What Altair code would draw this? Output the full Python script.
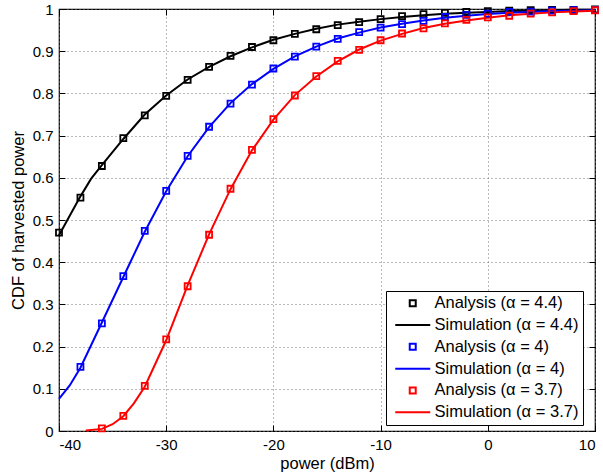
import altair as alt
import pandas as pd

labels = [
    "Analysis (α = 4.4)", "Simulation (α = 4.4)",
    "Analysis (α = 4)", "Simulation (α = 4)",
    "Analysis (α = 3.7)", "Simulation (α = 3.7)",
]
colors = ["#000000", "#000000", "#0000ff", "#0000ff", "#ff0000", "#ff0000"]

# Analysis markers (every 2 dBm)
an44_x = [-40, -38, -36, -34, -32, -30, -28, -26, -24, -22, -20, -18, -16, -14, -12, -10, -8, -6, -4, -2, 0, 2, 4, 6, 8, 10]
an44_y = [0.470, 0.553, 0.628, 0.694, 0.748, 0.794, 0.832, 0.863, 0.889, 0.910, 0.926, 0.941, 0.952, 0.962, 0.969, 0.976,
          0.983, 0.988, 0.991, 0.993, 0.995, 0.996, 0.997, 0.998, 0.998, 0.999]
an4_x = [-38, -36, -34, -32, -30, -28, -26, -24, -22, -20, -18, -16, -14, -12, -10, -8, -6, -4, -2, 0, 2, 4, 6, 8, 10]
an4_y = [0.152, 0.255, 0.367, 0.474, 0.569, 0.652, 0.721, 0.776, 0.821, 0.859, 0.887, 0.911, 0.929, 0.945, 0.956,
         0.964, 0.972, 0.981, 0.986, 0.989, 0.993, 0.994, 0.996, 0.997, 0.998]
an37_x = [-36, -34, -32, -30, -28, -26, -24, -22, -20, -18, -16, -14, -12, -10, -8, -6, -4, -2, 0, 2, 4, 6, 8, 10]
an37_y = [0.006, 0.036, 0.107, 0.217, 0.343, 0.465, 0.574, 0.666, 0.739, 0.795, 0.841, 0.877, 0.903, 0.926,
          0.942, 0.954, 0.966, 0.974, 0.980, 0.984, 0.989, 0.992, 0.995, 0.997]

# Simulation curves
sim44_x = [-40, -38, -37, -36, -34, -32, -30, -28, -26, -24, -22, -20, -18, -16, -14, -12, -10, -8, -6, -4, -2, 0, 2, 4, 6, 8, 10]
sim44_y = [0.464, 0.556, 0.598, 0.630, 0.692, 0.750, 0.795, 0.833, 0.863, 0.888, 0.909, 0.927, 0.941, 0.953, 0.963, 0.970,
           0.976, 0.981, 0.985, 0.989, 0.991, 0.993, 0.995, 0.996, 0.997, 0.998, 0.998]
sim4_x = [-40, -39, -38, -36, -34, -32, -30, -28, -26, -24, -22, -20, -18, -16, -14, -12, -10, -8, -6, -4, -2, 0, 2, 4, 6, 8, 10]
sim4_y = [0.076, 0.108, 0.150, 0.257, 0.365, 0.472, 0.568, 0.651, 0.720, 0.777, 0.822, 0.858, 0.888, 0.911, 0.930, 0.944,
          0.956, 0.965, 0.973, 0.979, 0.984, 0.988, 0.991, 0.993, 0.995, 0.996, 0.997]
sim37_x = [-37.5, -36, -35, -34, -33, -32, -30, -28, -26, -24, -22, -20, -18, -16, -14, -12, -10, -8, -6, -4, -2, 0, 2, 4, 6, 8, 10]
sim37_y = [0.001, 0.005, 0.016, 0.035, 0.066, 0.105, 0.215, 0.345, 0.466, 0.573, 0.665, 0.738, 0.796, 0.840, 0.876, 0.904,
           0.925, 0.941, 0.955, 0.965, 0.973, 0.979, 0.985, 0.989, 0.992, 0.994, 0.996]

x_ticks = [-40, -30, -20, -10, 0, 10]
y_ticks = [0, 0.1, 0.2, 0.3, 0.4, 0.5, 0.6, 0.7, 0.8, 0.9, 1]

an_df = pd.concat([
    pd.DataFrame({"x": an44_x, "y": an44_y, "label": labels[0]}),
    pd.DataFrame({"x": an4_x, "y": an4_y, "label": labels[2]}),
    pd.DataFrame({"x": an37_x, "y": an37_y, "label": labels[4]}),
])
sim_df = pd.concat([
    pd.DataFrame({"x": sim44_x, "y": sim44_y, "label": labels[1]}),
    pd.DataFrame({"x": sim4_x, "y": sim4_y, "label": labels[3]}),
    pd.DataFrame({"x": sim37_x, "y": sim37_y, "label": labels[5]}),
])

FONT = "Liberation Sans"
# plot marker: centred square
SQ_PLOT = "M-1,-1H1V1H-1Z"
# legend glyphs: line drawn rightwards from the symbol slot, square at the line's middle
SQ_LEG = "M3.83,-1H5.83V1H3.83Z"
LN_LEG = "M-1,0H10.67"

color_scale = alt.Scale(domain=labels, range=colors)
shape_scale = alt.Scale(domain=labels, range=[SQ_LEG, LN_LEG, SQ_LEG, LN_LEG, SQ_LEG, LN_LEG])
xs = alt.Scale(domain=[-40, 10], nice=False, zero=False)
ys = alt.Scale(domain=[0, 1], nice=False)

legend = alt.Legend(
    title=None, orient="none", legendX=327, legendY=282,
    strokeColor="black", fillColor="white", padding=4, rowPadding=4.8,
    labelFont=FONT, labelFontSize=16.5, labelColor="black", labelOffset=28,
    symbolSize=36, symbolStrokeWidth=2, symbolOpacity=1, cornerRadius=0,
)

main_x = alt.Axis(
    orient="bottom", values=x_ticks, labelExpr="toString(datum.value)",
    grid=True, gridDash=[1, 3], gridColor="#777777", gridWidth=1,
    domain=False, offset=-6, tickSize=6, tickColor="black", tickWidth=1,
    labelFont=FONT, labelFontSize=15, labelColor="black", labelPadding=6,
    title="power (dBm)", titleFont=FONT, titleFontSize=16.5, titleFontWeight="normal",
    titleColor="black", titlePadding=3,
)
main_y = alt.Axis(
    orient="left", values=y_ticks, format="~g", grid=True, gridDash=[1, 3], gridColor="#777777", gridWidth=1,
    domain=False, offset=-6, tickSize=6, tickColor="black", tickWidth=1,
    labelFont=FONT, labelFontSize=15, labelColor="black", labelPadding=6,
    title="CDF of harvested power", titleFont=FONT, titleFontSize=16.5, titleFontWeight="normal",
    titleColor="black", titlePadding=6,
)
top_x = alt.Axis(orient="top", values=x_ticks, labels=False, grid=False, domain=False,
                 offset=-6, tickSize=6, tickColor="black", tickWidth=1, title=None)
right_y = alt.Axis(orient="right", values=y_ticks, labels=False, grid=False, domain=False,
                   offset=-6, tickSize=6, tickColor="black", tickWidth=1, title=None)

lines = alt.Chart(sim_df).mark_line(strokeWidth=2).encode(
    x=alt.X("x:Q", scale=xs, axis=main_x),
    y=alt.Y("y:Q", scale=ys, axis=main_y),
    color=alt.Color("label:N", scale=color_scale, legend=legend),
)
points = alt.Chart(an_df).mark_point(filled=False, size=36, strokeWidth=1.8, opacity=1, shape=SQ_PLOT).encode(
    x=alt.X("x:Q", scale=xs, axis=top_x),
    y=alt.Y("y:Q", scale=ys, axis=right_y),
    color=alt.Color("label:N", scale=color_scale, legend=None),
)
# invisible layer that only carries the legend glyphs
legend_layer = alt.Chart(an_df).mark_point(filled=False, size=36, strokeWidth=2, opacity=0).encode(
    x=alt.X("x:Q", scale=xs, axis=None),
    y=alt.Y("y:Q", scale=ys, axis=None),
    color=alt.Color("label:N", scale=color_scale, legend=legend),
    shape=alt.Shape("label:N", scale=shape_scale, legend=legend),
)

chart = alt.layer(lines, points, legend_layer).resolve_axis(x="independent", y="independent").properties(
    width=536, height=422,
    autosize=alt.AutoSizeParams(type="none"),
    padding={"left": 59, "top": 9, "right": 8, "bottom": 45},
    background="white",
).configure_view(stroke="black", strokeWidth=1.2)

chart.save("out.html", embed_options={"renderer": "svg", "actions": False})
